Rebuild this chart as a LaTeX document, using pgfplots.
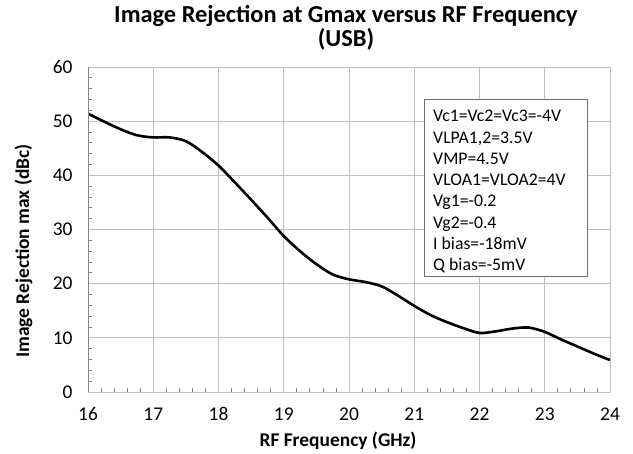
\documentclass[border=0pt]{standalone}
\usepackage{fontspec}
\setmainfont{Carlito}
\usepackage{pgfplots}
\pgfplotsset{compat=1.18}
\definecolor{gridc}{RGB}{191,191,191}
\definecolor{axc}{RGB}{134,134,134}
\definecolor{boxc}{RGB}{110,110,110}
\begin{document}
\begin{tikzpicture}[x=1bp,y=1bp]
\useasboundingbox (0,0) rectangle (633,454);
\begin{axis}[at={(88bp,62bp)}, anchor=south west, scale only axis,
  width=522bp, height=325bp,
  xmin=16, xmax=24, ymin=0, ymax=60,
  xtick={16,...,24}, ytick={0,10,...,60},
  minor x tick num=4, minor y tick num=4,
  grid=major, major grid style={gridc, line width=0.9bp},
  axis line style={gridc, line width=0.9bp},
  xtick pos=bottom, ytick pos=left, tick align=inside,
  major tick length=0pt, minor tick length=4bp,
  minor tick style={axc, line width=0.8bp},
  tick label style={font=\fontsize{19.5}{21}\selectfont, text=black},
  /pgf/number format/assume math mode=true,
  xticklabel style={yshift=-12bp},
  yticklabel style={xshift=-12bp},
]
\addplot[black, line width=2.6bp, smooth] coordinates {
(16,51.4) (16.25,49.9) (16.5,48.5) (16.75,47.4) (17,47.0) (17.25,47.0)
(17.5,46.3) (17.75,44.3) (18,41.8) (18.25,38.7) (18.5,35.5) (18.75,32.2)
(19,28.8) (19.25,26.0) (19.5,23.6) (19.75,21.7) (20,20.8) (20.25,20.3)
(20.5,19.5) (20.75,17.8) (21,15.9) (21.25,14.2) (21.5,12.9) (21.75,11.8)
(22,10.9) (22.25,11.2) (22.5,11.7) (22.75,11.9) (23,11.1) (23.25,9.7)
(23.5,8.4) (23.75,7.1) (24,5.9)};
\draw[axc, line width=0.9bp] (rel axis cs:0,1) -- (rel axis cs:0,0) -- (rel axis cs:1,0);
\end{axis}
\draw[boxc, line width=0.9bp, fill=white] (424,355) rectangle (587,178);
\node[anchor=north west, inner sep=0pt, align=left,
  font=\fontsize{17.8}{21.4}\selectfont] at (433,344) {Vc1=Vc2=Vc3=-4V\\VLPA1,2=3.5V\\VMP=4.5V\\VLOA1=VLOA2=4V\\Vg1=-0.2\\Vg2=-0.4\\I bias=-18mV\\Q bias=-5mV};
\node[font=\bfseries\fontsize{24.5}{24.3}\selectfont, align=center, anchor=base] at (346,407) {Image Rejection at Gmax versus RF Frequency\\(USB)};
\node[font=\bfseries\fontsize{19.5}{21}\selectfont, anchor=base] at (338,7) {RF Frequency (GHz)};
\node[font=\bfseries\fontsize{19.5}{21}\selectfont, rotate=90, anchor=base] at (29,203) {Image Rejection max (dBc)};
\end{tikzpicture}
\end{document}
